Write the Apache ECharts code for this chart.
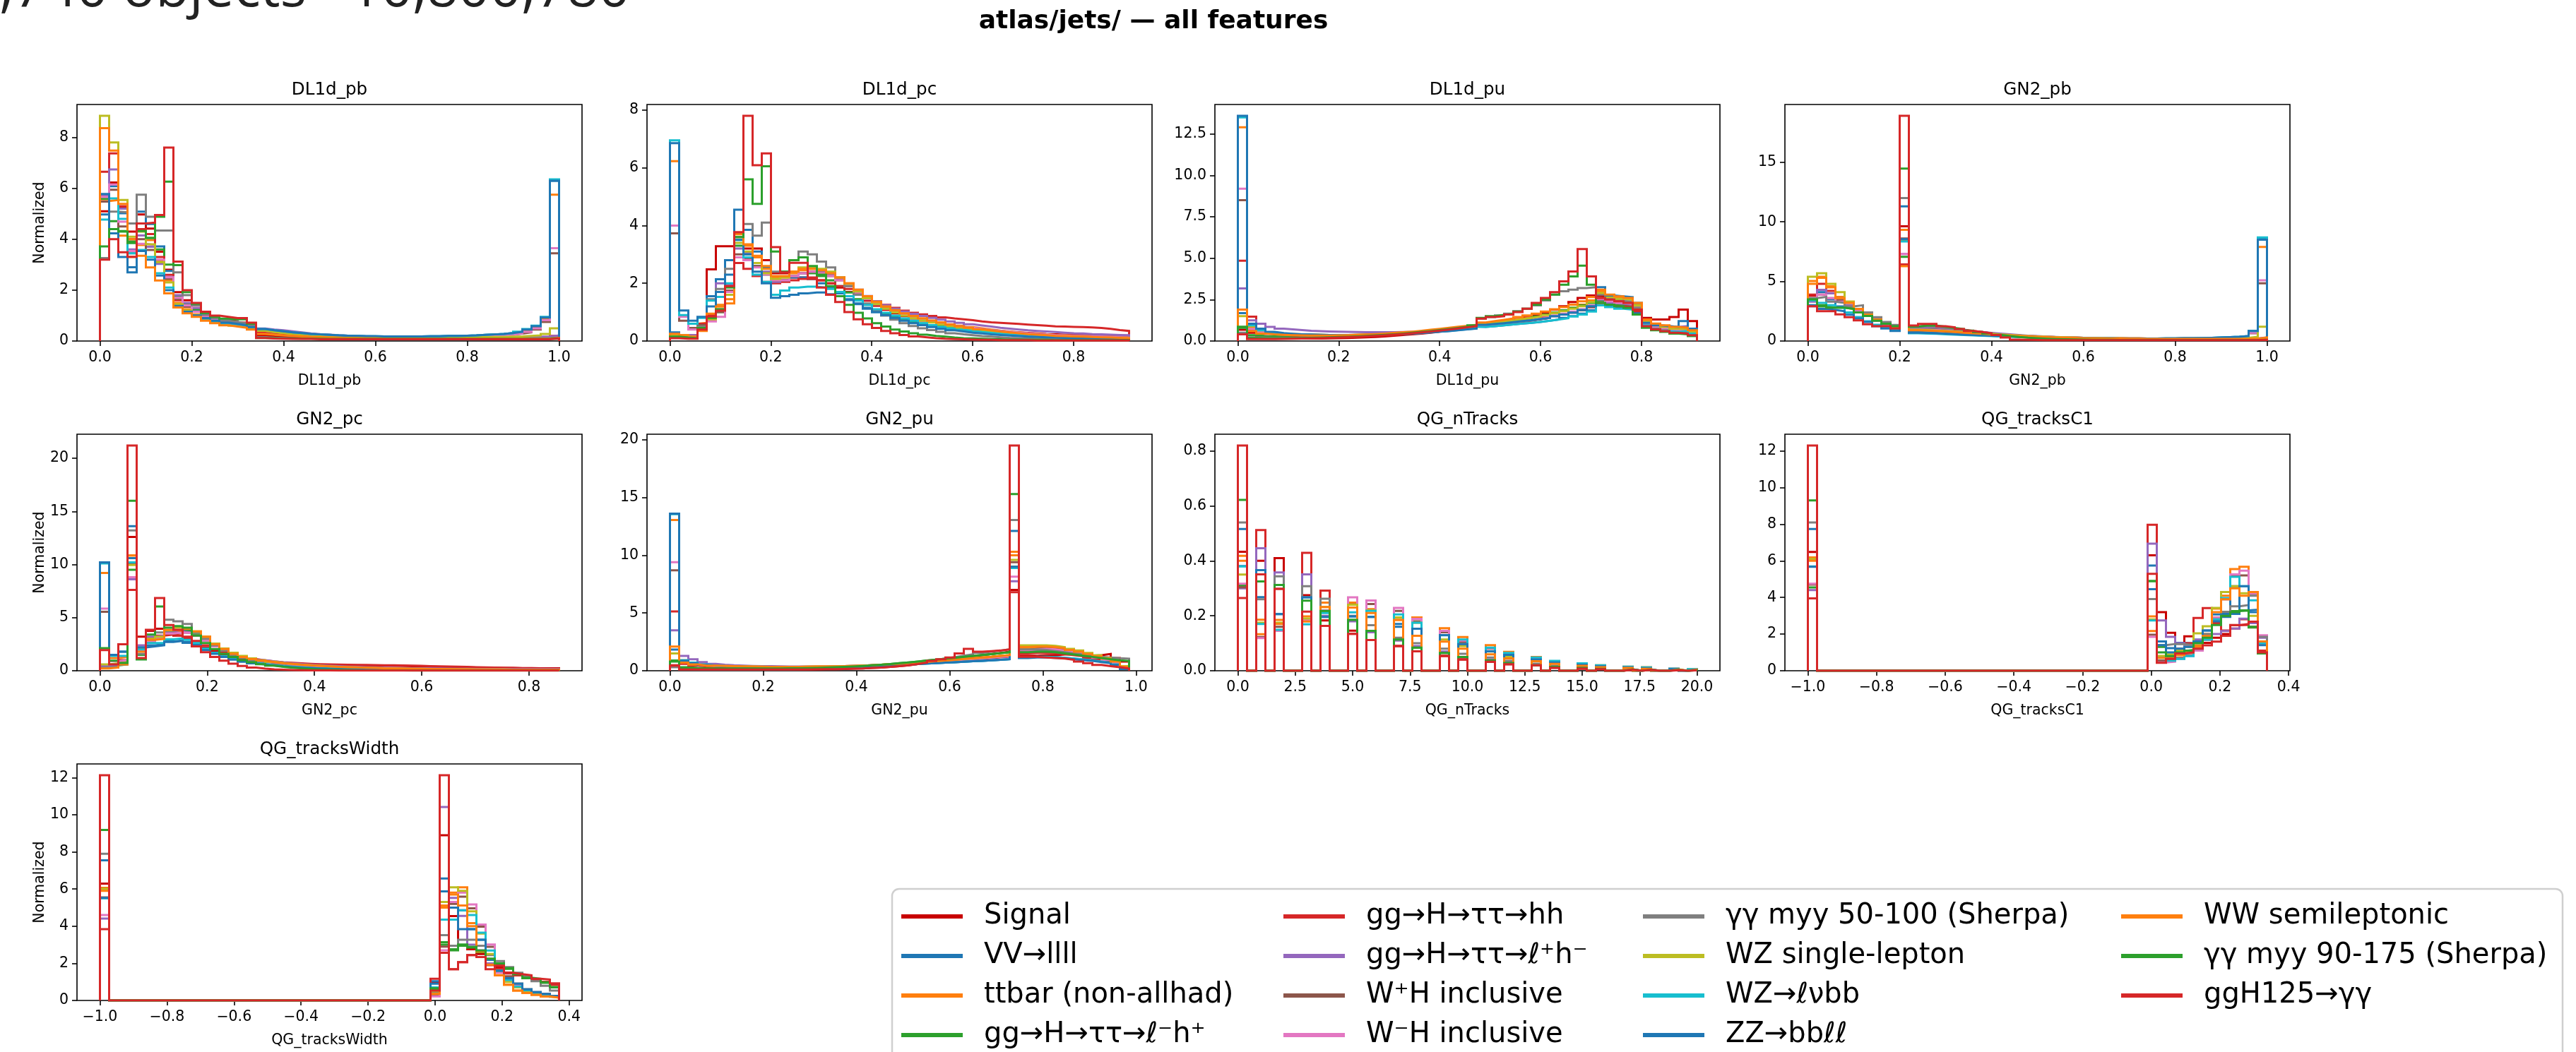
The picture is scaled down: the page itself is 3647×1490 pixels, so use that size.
<!DOCTYPE html>
<html lang="en">
<head>
<meta charset="utf-8"/>
<title>atlas/jets/ — all features</title>
<script src="https://cdn.jsdelivr.net/npm/echarts@6/dist/echarts.min.js"></script>
<style>
  html, body { margin: 0; padding: 0; background: #fff; }
</style>
</head>
<body>
<div id="chart" style="width: 3647px; height: 1490px;"></div>
<script>
// sample names, in legend / draw order
var SAMPLES = ['Signal', 'VV\u2192llll', 'ttbar (non-allhad)', 'gg\u2192H\u2192\u03c4\u03c4\u2192\u2113\u207bh\u207a',
  'gg\u2192H\u2192\u03c4\u03c4\u2192hh', 'gg\u2192H\u2192\u03c4\u03c4\u2192\u2113\u207ah\u207b', 'W\u207aH inclusive', 'W\u207bH inclusive',
  '\u03b3\u03b3 myy 50-100 (Sherpa)', 'WZ single-lepton', 'WZ\u2192\u2113\u03bdbb', 'ZZ\u2192bb\u2113\u2113',
  'WW semileptonic', '\u03b3\u03b3 myy 90-175 (Sherpa)', 'ggH125\u2192\u03b3\u03b3'];
var COLORS = ['#c80000', '#1f77b4', '#ff7f0e', '#2ca02c', '#d62728', '#9467bd', '#8c564b', '#e377c2',
  '#7f7f7f', '#bcbd22', '#17becf', '#1f77b4', '#ff7f0e', '#2ca02c', '#d62728'];

// normalized bin contents, 50 bins per feature, one row per sample (SAMPLES order)
var DL1D_PB = [
  [5.1,6.23,5.23,4.3,4.97,4.42,3.51,2.8,1.92,1.6, 1.3,1.05,0.9,0.82,0.78,0.72,0.6,0.22,0.18,0.16, 0.14,0.13,0.12,0.11,0.1,0.1,0.1,0.1,0.1,0.1, 0.1,0.1,0.1,0.1,0.1,0.1,0.1,0.1,0.1,0.1, 0.1,0.1,0.1,0.1,0.1,0.1,0.1,0.1,0.12,0.18],
  [4.97,6.08,5.02,2.7,5.08,4.6,3.72,2.75,1.7,1.4, 1.2,1.0,0.88,0.78,0.72,0.66,0.58,0.47,0.42,0.38, 0.34,0.31,0.28,0.26,0.24,0.22,0.21,0.2,0.19,0.19, 0.18,0.18,0.18,0.18,0.18,0.19,0.19,0.2,0.2,0.21, 0.22,0.24,0.26,0.28,0.31,0.36,0.45,0.58,0.92,6.3],
  [5.5,5.54,4.14,3.3,3.77,3.97,3.14,2.38,1.5,1.25, 1.05,0.9,0.78,0.7,0.64,0.58,0.5,0.42,0.38,0.34, 0.31,0.28,0.26,0.24,0.22,0.2,0.19,0.18,0.18,0.17, 0.17,0.17,0.17,0.17,0.17,0.17,0.18,0.18,0.19,0.2, 0.21,0.23,0.25,0.27,0.3,0.35,0.42,0.55,0.85,5.75],
  [5.59,4.71,4.32,3.91,4.32,4.05,3.6,3.0,1.75,1.45, 1.25,1.0,0.88,0.8,0.76,0.7,0.6,0.4,0.36,0.33, 0.3,0.28,0.26,0.24,0.22,0.2,0.19,0.18,0.17,0.16, 0.15,0.15,0.14,0.14,0.14,0.14,0.13,0.13,0.13,0.13, 0.13,0.13,0.13,0.13,0.13,0.13,0.13,0.13,0.13,0.15],
  [6.65,7.37,5.3,4.0,4.4,4.2,3.3,2.6,1.6,1.35, 1.15,0.95,0.82,0.74,0.7,0.65,0.55,0.35,0.31,0.28, 0.26,0.24,0.22,0.2,0.19,0.18,0.17,0.16,0.15,0.15, 0.14,0.14,0.14,0.14,0.14,0.14,0.14,0.14,0.14,0.14, 0.14,0.14,0.14,0.14,0.14,0.14,0.14,0.14,0.14,0.2],
  [5.7,6.74,5.2,3.6,4.15,3.7,3.03,2.52,1.8,1.5, 1.3,1.05,0.92,0.82,0.76,0.7,0.62,0.49,0.45,0.42, 0.38,0.34,0.3,0.27,0.25,0.23,0.21,0.2,0.19,0.18, 0.17,0.17,0.16,0.16,0.16,0.16,0.16,0.16,0.16,0.16, 0.16,0.16,0.16,0.16,0.16,0.16,0.16,0.17,0.18,0.22],
  [5.48,5.94,4.5,3.45,4.0,3.58,3.1,2.45,1.65,1.35, 1.15,0.95,0.82,0.72,0.66,0.6,0.5,0.4,0.36,0.32, 0.29,0.26,0.24,0.22,0.2,0.19,0.18,0.17,0.16,0.16, 0.15,0.15,0.15,0.15,0.15,0.15,0.15,0.15,0.16,0.16, 0.17,0.18,0.2,0.22,0.25,0.29,0.34,0.45,0.75,3.45],
  [5.66,6.15,4.69,3.54,3.82,3.77,3.2,2.5,1.7,1.4, 1.15,0.95,0.82,0.72,0.66,0.6,0.5,0.4,0.36,0.32, 0.29,0.26,0.24,0.22,0.2,0.19,0.18,0.17,0.16,0.16, 0.15,0.15,0.15,0.15,0.15,0.15,0.15,0.15,0.16,0.16, 0.17,0.18,0.2,0.22,0.25,0.3,0.36,0.5,0.82,3.65],
  [3.26,5.08,5.06,4.62,5.75,4.88,4.34,4.34,2.7,1.8, 1.4,1.05,0.9,0.8,0.75,0.7,0.6,0.15,0.13,0.12, 0.11,0.1,0.1,0.1,0.1,0.1,0.1,0.1,0.1,0.1, 0.1,0.1,0.1,0.1,0.1,0.1,0.1,0.1,0.1,0.1, 0.1,0.1,0.1,0.1,0.1,0.1,0.1,0.1,0.1,0.12],
  [8.85,7.8,5.54,4.1,4.3,3.8,3.1,2.3,1.45,1.2, 1.0,0.85,0.74,0.66,0.6,0.55,0.48,0.4,0.35,0.31, 0.28,0.26,0.24,0.22,0.2,0.19,0.18,0.17,0.16,0.16, 0.15,0.15,0.15,0.15,0.15,0.15,0.15,0.15,0.15,0.15, 0.15,0.15,0.16,0.16,0.17,0.18,0.2,0.22,0.28,0.5],
  [4.77,5.6,4.8,3.45,3.58,3.3,2.66,2.1,1.35,1.15, 1.0,0.88,0.78,0.7,0.65,0.6,0.54,0.47,0.42,0.38, 0.34,0.31,0.28,0.26,0.24,0.22,0.21,0.2,0.19,0.19, 0.18,0.18,0.18,0.18,0.18,0.19,0.19,0.2,0.2,0.21, 0.22,0.24,0.26,0.28,0.31,0.37,0.47,0.6,0.95,6.35],
  [5.78,4.23,3.3,2.9,3.54,3.2,2.57,2.0,1.38,1.15, 1.0,0.9,0.8,0.72,0.67,0.62,0.55,0.47,0.42,0.38, 0.34,0.31,0.28,0.26,0.24,0.22,0.21,0.2,0.19,0.19, 0.18,0.18,0.18,0.18,0.18,0.19,0.19,0.2,0.2,0.21, 0.22,0.24,0.26,0.28,0.31,0.36,0.45,0.58,0.92,6.3],
  [8.36,7.48,5.39,4.0,3.35,2.89,2.38,1.87,1.32,1.09, 0.95,0.8,0.7,0.62,0.57,0.52,0.45,0.28,0.25,0.22, 0.2,0.18,0.16,0.15,0.14,0.13,0.12,0.12,0.11,0.11, 0.1,0.1,0.1,0.1,0.1,0.1,0.1,0.1,0.1,0.1, 0.1,0.1,0.1,0.1,0.1,0.1,0.1,0.1,0.1,0.12],
  [3.72,4.4,4.3,3.85,4.32,4.05,4.88,6.26,2.98,1.92, 1.46,1.1,0.95,0.88,0.85,0.85,0.68,0.12,0.11,0.1, 0.1,0.09,0.09,0.09,0.08,0.08,0.08,0.08,0.08,0.08, 0.08,0.08,0.08,0.08,0.08,0.08,0.08,0.08,0.08,0.08, 0.08,0.08,0.08,0.08,0.08,0.08,0.08,0.08,0.08,0.1],
  [3.2,4.0,3.49,3.31,4.62,4.65,4.95,7.6,3.12,2.0, 1.5,1.15,1.0,0.95,0.9,0.9,0.72,0.12,0.1,0.09, 0.08,0.08,0.08,0.07,0.07,0.07,0.07,0.07,0.07,0.07, 0.07,0.07,0.07,0.07,0.07,0.07,0.07,0.07,0.07,0.07, 0.07,0.07,0.07,0.07,0.07,0.07,0.07,0.07,0.07,0.1]
];

var DL1D_PC = [
  [0.2,0.15,0.18,0.6,2.48,3.28,3.28,3.75,3.2,3.2, 2.8,2.35,2.35,2.2,2.2,2.15,2.1,2.0,1.85,1.7, 1.6,1.4,1.22,1.08,0.96,0.86,0.78,0.71,0.65,0.59, 0.54,0.49,0.45,0.41,0.38,0.35,0.32,0.3,0.28,0.26, 0.24,0.23,0.22,0.21,0.2,0.19,0.18,0.17,0.16,0.16],
  [0.3,0.15,0.15,0.5,1.55,2.14,2.8,4.55,3.85,3.1, 2.55,2.1,2.1,2.2,2.2,2.15,2.0,1.85,1.65,1.45, 1.3,1.15,1.0,0.9,0.8,0.72,0.64,0.56,0.5,0.45, 0.4,0.36,0.32,0.29,0.26,0.23,0.21,0.19,0.17,0.16, 0.15,0.14,0.13,0.12,0.11,0.1,0.1,0.09,0.09,0.08],
  [6.23,0.88,0.6,0.63,0.9,1.25,1.3,3.6,3.3,2.9, 2.5,2.2,2.2,2.35,2.45,2.5,2.45,2.35,2.2,2.0, 1.75,1.5,1.3,1.15,1.02,0.92,0.84,0.77,0.7,0.64, 0.58,0.53,0.48,0.44,0.4,0.36,0.33,0.3,0.27,0.25, 0.23,0.21,0.2,0.19,0.18,0.17,0.16,0.15,0.15,0.14],
  [0.2,0.15,0.15,0.5,0.78,1.0,1.9,3.3,3.0,2.6, 2.3,2.05,2.1,2.25,2.35,2.35,2.25,2.1,1.9,1.68, 1.45,1.25,1.08,0.95,0.85,0.76,0.68,0.61,0.55,0.5, 0.45,0.41,0.37,0.34,0.31,0.28,0.26,0.24,0.22,0.2, 0.18,0.17,0.16,0.15,0.14,0.13,0.12,0.11,0.1,0.1],
  [0.2,0.2,0.2,0.6,0.9,1.1,1.9,2.7,2.5,2.25, 2.05,2.0,2.05,2.1,2.15,2.15,2.1,2.0,1.9,1.8, 1.65,1.5,1.38,1.25,1.15,1.05,0.98,0.92,0.87,0.82, 0.78,0.75,0.72,0.68,0.65,0.63,0.61,0.59,0.57,0.55, 0.53,0.51,0.5,0.49,0.48,0.47,0.45,0.42,0.38,0.35],
  [0.25,0.2,0.2,0.45,0.8,2.0,1.95,3.2,3.05,2.7, 2.4,2.05,2.1,2.25,2.35,2.4,2.38,2.3,2.15,1.98, 1.78,1.56,1.38,1.24,1.12,1.02,0.94,0.87,0.8,0.74, 0.68,0.63,0.58,0.54,0.5,0.46,0.43,0.4,0.37,0.35, 0.33,0.31,0.29,0.27,0.26,0.24,0.23,0.22,0.21,0.2],
  [3.73,0.7,0.45,0.55,0.75,1.0,1.75,3.0,2.85,2.6, 2.35,2.1,2.1,2.25,2.35,2.4,2.35,2.25,2.1,1.9, 1.68,1.45,1.27,1.12,1.0,0.9,0.82,0.75,0.68,0.62, 0.56,0.51,0.46,0.42,0.38,0.35,0.32,0.29,0.26,0.24, 0.22,0.2,0.19,0.18,0.17,0.16,0.15,0.14,0.13,0.12],
  [4.0,0.84,0.4,0.5,0.68,0.84,1.7,2.9,2.8,2.55, 2.3,2.1,2.1,2.25,2.35,2.4,2.35,2.25,2.1,1.9, 1.68,1.45,1.27,1.12,1.0,0.9,0.82,0.75,0.68,0.62, 0.56,0.51,0.46,0.42,0.38,0.35,0.32,0.29,0.26,0.24, 0.22,0.2,0.19,0.18,0.17,0.16,0.15,0.14,0.13,0.12],
  [0.2,0.15,0.12,0.5,1.45,1.8,2.5,3.6,4.05,3.65, 4.1,2.4,2.4,2.8,3.1,3.0,2.75,2.55,2.2,1.9, 1.6,1.3,1.05,0.88,0.74,0.62,0.52,0.44,0.38,0.32, 0.27,0.23,0.2,0.17,0.15,0.13,0.11,0.1,0.09,0.08, 0.07,0.06,0.06,0.05,0.05,0.05,0.04,0.04,0.04,0.04],
  [0.2,0.2,0.15,0.4,0.75,1.2,1.6,3.4,3.1,2.7, 2.35,2.15,2.2,2.4,2.55,2.55,2.5,2.4,2.2,1.98, 1.72,1.48,1.28,1.12,0.99,0.88,0.79,0.71,0.64,0.57, 0.51,0.46,0.41,0.37,0.33,0.3,0.27,0.24,0.22,0.2, 0.18,0.16,0.15,0.14,0.13,0.12,0.11,0.1,0.1,0.09],
  [6.95,0.9,0.6,0.8,1.4,1.53,2.0,3.5,2.9,2.3, 2.05,1.6,1.75,1.85,1.88,1.88,1.85,1.8,1.7,1.55, 1.4,1.25,1.1,0.98,0.88,0.78,0.7,0.62,0.55,0.49, 0.44,0.39,0.35,0.31,0.28,0.25,0.22,0.2,0.18,0.16, 0.15,0.14,0.13,0.12,0.11,0.1,0.1,0.09,0.09,0.08],
  [6.85,1.06,0.7,0.84,1.2,1.7,2.3,3.5,3.0,2.4, 2.0,1.5,1.55,1.6,1.65,1.68,1.68,1.62,1.55,1.42, 1.28,1.12,1.0,0.9,0.8,0.7,0.62,0.55,0.48,0.42, 0.37,0.33,0.29,0.26,0.23,0.21,0.19,0.17,0.15,0.14, 0.13,0.12,0.11,0.1,0.09,0.09,0.08,0.08,0.07,0.07],
  [0.25,0.2,0.15,0.35,0.95,1.2,1.45,3.7,3.35,2.95, 2.6,2.25,2.25,2.4,2.5,2.5,2.45,2.35,2.2,2.0, 1.78,1.55,1.36,1.2,1.07,0.96,0.87,0.79,0.71,0.64, 0.57,0.51,0.46,0.41,0.37,0.33,0.3,0.27,0.24,0.22, 0.2,0.18,0.17,0.16,0.15,0.14,0.13,0.12,0.11,0.1],
  [0.15,0.12,0.1,0.45,0.8,1.1,1.85,3.6,5.6,4.75, 6.05,3.1,2.4,2.8,2.9,2.6,2.3,1.9,1.55,1.25, 0.98,0.78,0.62,0.5,0.4,0.33,0.27,0.22,0.18,0.15, 0.12,0.1,0.09,0.08,0.07,0.06,0.05,0.05,0.04,0.04, 0.04,0.03,0.03,0.03,0.03,0.03,0.03,0.03,0.03,0.03],
  [0.1,0.08,0.08,0.4,0.85,1.05,1.9,3.77,7.8,6.09, 6.5,3.25,2.38,2.71,2.71,2.2,1.85,1.6,1.35,1.0, 0.75,0.58,0.45,0.35,0.27,0.21,0.16,0.13,0.1,0.08, 0.07,0.06,0.05,0.04,0.04,0.03,0.03,0.03,0.03,0.02, 0.02,0.02,0.02,0.02,0.02,0.02,0.02,0.02,0.02,0.02]
];

var DL1D_PU = [
  [0.68,0.5,0.3,0.22,0.18,0.16,0.15,0.15,0.15,0.16, 0.17,0.18,0.2,0.22,0.25,0.28,0.32,0.36,0.4,0.45, 0.5,0.56,0.62,0.7,0.78,0.86, 1.0,1.08,1.15,1.22, 1.32,1.42,1.55,1.7,1.9,2.1,2.35,2.6,2.75,2.7, 2.5,2.4,2.35,2.0,1.4,1.3,1.3,1.45,1.9,1.2],
  [1.68,1.0,0.7,0.52,0.46,0.42,0.4,0.38,0.37,0.36, 0.36,0.36,0.37,0.38,0.4,0.42,0.45,0.48,0.52,0.56, 0.6,0.65,0.7,0.76,0.82,0.88, 0.85,0.9,0.95,1.0, 1.05,1.1,1.15,1.22,1.3,1.4,1.5,1.65,1.85,2.3, 2.15,2.05,2.0,1.7,1.0,0.75,0.65,0.6,0.7,0.5],
  [12.9,0.8,0.6,0.5,0.45,0.42,0.4,0.38,0.37,0.36, 0.36,0.36,0.37,0.38,0.4,0.42,0.45,0.48,0.52,0.56, 0.6,0.65,0.7,0.76,0.82,0.88, 1.05,1.12,1.2,1.28, 1.35,1.42,1.5,1.6,1.72,1.85,2.0,2.2,2.45,3.0, 2.7,2.6,2.55,2.2,1.2,1.0,0.9,0.8,0.75,0.6],
  [0.8,0.35,0.3,0.28,0.27,0.26,0.26,0.26,0.27,0.28, 0.3,0.32,0.34,0.36,0.38,0.4,0.43,0.46,0.5,0.54, 0.58,0.63,0.68,0.74,0.8,0.86, 1.0,1.08,1.15,1.22, 1.3,1.38,1.48,1.6,1.72,1.85,2.0,2.15,2.3,2.45, 2.3,2.2,2.15,1.85,1.0,0.75,0.65,0.55,0.5,0.4],
  [4.85,1.47,0.7,0.45,0.38,0.34,0.32,0.3,0.29,0.28, 0.28,0.28,0.29,0.3,0.32,0.34,0.37,0.4,0.44,0.48, 0.53,0.58,0.64,0.7,0.76,0.82, 0.95,1.0,1.05,1.1, 1.18,1.25,1.33,1.42,1.52,1.62,1.75,1.9,2.05,2.3, 2.2,2.1,2.05,1.8,1.0,0.8,0.7,0.6,0.55,0.45],
  [3.18,1.25,1.04,0.85,0.75,0.7,0.66,0.62,0.6,0.58, 0.56,0.55,0.54,0.53,0.53,0.53,0.53,0.54,0.55,0.57, 0.6,0.63,0.67,0.72,0.77,0.82, 0.92,0.98,1.04,1.1, 1.17,1.24,1.32,1.4,1.5,1.6,1.72,1.85,2.05,2.5, 2.3,2.25,2.2,1.9,1.1,0.95,0.9,0.85,0.9,0.6],
  [8.5,0.7,0.5,0.42,0.38,0.36,0.34,0.33,0.32,0.32, 0.32,0.33,0.34,0.35,0.37,0.39,0.42,0.45,0.48,0.52, 0.56,0.6,0.65,0.7,0.76,0.82, 0.95,1.0,1.06,1.12, 1.18,1.25,1.32,1.4,1.5,1.6,1.72,1.85,2.05,2.6, 2.45,2.35,2.3,1.95,1.1,0.9,0.8,0.7,0.7,0.55],
  [9.2,0.72,0.52,0.43,0.39,0.37,0.35,0.34,0.33,0.33, 0.33,0.34,0.35,0.36,0.38,0.4,0.43,0.46,0.49,0.53, 0.57,0.61,0.66,0.71,0.77,0.83, 0.96,1.02,1.08,1.14, 1.2,1.27,1.35,1.43,1.53,1.65,1.78,1.92,2.15,2.55, 2.4,2.3,2.25,1.9,1.05,0.85,0.75,0.65,0.65,0.5],
  [0.5,0.22,0.2,0.19,0.19,0.19,0.2,0.21,0.22,0.23, 0.25,0.27,0.29,0.31,0.34,0.37,0.4,0.44,0.48,0.53, 0.58,0.64,0.7,0.77,0.85,0.93, 1.35,1.45,1.55,1.65, 1.8,1.95,2.15,2.45,2.8,3.0,3.1,3.2,3.25,2.8, 2.6,2.5,2.4,2.0,0.9,0.75,0.65,0.55,0.45,0.35],
  [1.5,0.9,0.65,0.5,0.45,0.42,0.4,0.38,0.37,0.36, 0.36,0.36,0.37,0.38,0.4,0.42,0.45,0.48,0.52,0.56, 0.6,0.65,0.7,0.76,0.82,0.88, 1.05,1.1,1.17,1.24, 1.32,1.4,1.48,1.57,1.68,1.8,1.95,2.1,2.35,2.9, 2.65,2.55,2.5,2.15,1.15,0.95,0.85,0.75,0.7,0.55],
  [13.5,0.95,0.65,0.5,0.44,0.4,0.38,0.36,0.35,0.34, 0.34,0.34,0.35,0.36,0.37,0.39,0.41,0.43,0.46,0.49, 0.53,0.57,0.61,0.66,0.71,0.76, 0.85,0.9,0.95,1.0, 1.05,1.1,1.16,1.23,1.3,1.38,1.48,1.6,1.78,2.15, 2.05,1.95,1.9,1.6,0.95,0.7,0.6,0.55,0.6,0.45],
  [13.6,1.04,0.75,0.55,0.48,0.44,0.41,0.39,0.37,0.36, 0.35,0.35,0.35,0.36,0.37,0.38,0.4,0.42,0.45,0.48, 0.52,0.56,0.6,0.65,0.7,0.75, 0.98,1.03,1.08,1.14, 1.2,1.26,1.33,1.4,1.5,1.6,1.72,1.88,2.1,3.25, 2.75,2.7,2.65,2.3,1.1,0.95,0.9,0.85,1.2,0.75],
  [1.9,0.6,0.45,0.4,0.37,0.35,0.34,0.33,0.33,0.33, 0.34,0.35,0.37,0.39,0.42,0.45,0.49,0.53,0.57,0.62, 0.68,0.74,0.8,0.86,0.92,0.98, 1.12,1.2,1.28,1.36, 1.45,1.55,1.65,1.78,1.92,2.05,2.2,2.4,2.65,3.1, 2.8,2.7,2.6,2.3,1.3,1.05,0.95,0.85,0.8,0.65],
  [0.86,0.18,0.16,0.16,0.16,0.17,0.18,0.19,0.2,0.22, 0.24,0.26,0.28,0.31,0.34,0.37,0.41,0.45,0.5,0.55, 0.6,0.66,0.72,0.79,0.86,0.95, 1.4,1.5,1.58,1.65, 1.78,1.95,2.2,2.5,2.8,3.4,3.9,4.55,3.4,2.3, 2.2,2.1,2.0,1.6,0.8,0.65,0.55,0.45,0.4,0.3],
  [0.4,0.12,0.12,0.12,0.13,0.14,0.15,0.16,0.17,0.19, 0.21,0.23,0.25,0.28,0.31,0.34,0.38,0.42,0.47,0.52, 0.57,0.63,0.69,0.76,0.83,0.9, 1.35,1.45,1.5,1.6, 1.75,1.95,2.3,2.6,2.95,3.6,4.2,5.55,3.9,2.6, 2.5,2.4,2.3,1.9,0.9,0.7,0.6,0.5,0.45,0.35]
];

var GN2_PB = [
  [3.8,4.3,4.0,3.4,2.9,2.5,2.1,1.7,1.4,1.15, 9.63,1.2,1.3,1.3,1.15,1.05,0.95,0.85,0.75,0.65, 0.55,0.48,0.42,0.37,0.33,0.3,0.27,0.25,0.23,0.21, 0.2,0.19,0.18,0.17,0.16,0.15,0.15,0.14,0.14,0.13, 0.13,0.13,0.12,0.12,0.12,0.12,0.12,0.12,0.12,0.15],
  [3.0,4.1,3.5,2.9,2.4,2.0,1.65,1.35,1.1,0.9, 11.3,0.75,0.72,0.68,0.64,0.6,0.56,0.52,0.48,0.44, 0.41,0.38,0.35,0.33,0.31,0.29,0.27,0.26,0.25,0.24, 0.23,0.22,0.22,0.21,0.21,0.21,0.21,0.21,0.22,0.22, 0.23,0.24,0.25,0.27,0.29,0.32,0.36,0.42,0.85,8.6],
  [5.03,5.39,4.6,3.7,3.3,2.7,2.2,1.8,1.45,1.2, 9.33,0.95,0.92,0.88,0.84,0.8,0.75,0.7,0.65,0.6, 0.55,0.5,0.46,0.42,0.39,0.36,0.33,0.31,0.29,0.27, 0.26,0.25,0.24,0.23,0.22,0.22,0.21,0.21,0.21,0.21, 0.22,0.22,0.23,0.24,0.26,0.28,0.32,0.38,0.75,7.9],
  [3.5,2.9,2.8,2.8,2.7,2.4,2.1,1.7,1.45,1.25, 7.07,1.05,1.1,1.08,1.0,0.92,0.84,0.76,0.68,0.6, 0.53,0.47,0.42,0.38,0.34,0.31,0.28,0.26,0.24,0.22, 0.21,0.2,0.19,0.18,0.17,0.16,0.16,0.15,0.15,0.15, 0.15,0.15,0.15,0.15,0.15,0.15,0.15,0.15,0.15,0.18],
  [3.9,4.8,4.2,3.5,3.0,2.5,2.1,1.7,1.4,1.15, 6.43,1.1,1.15,1.12,1.05,0.97,0.89,0.81,0.73,0.65, 0.58,0.52,0.46,0.41,0.37,0.33,0.3,0.27,0.25,0.23, 0.21,0.2,0.19,0.18,0.17,0.16,0.16,0.15,0.15,0.15, 0.15,0.15,0.15,0.15,0.15,0.15,0.15,0.15,0.16,0.2],
  [3.3,4.3,4.0,3.6,3.0,2.6,2.2,1.85,1.55,1.3, 7.3,1.1,1.15,1.12,1.05,0.98,0.9,0.82,0.75,0.68, 0.62,0.56,0.5,0.45,0.41,0.37,0.34,0.31,0.29,0.27, 0.25,0.24,0.23,0.22,0.21,0.2,0.2,0.19,0.19,0.19, 0.19,0.19,0.19,0.19,0.19,0.19,0.19,0.2,0.22,0.3],
  [3.5,3.9,3.6,3.4,2.9,2.5,2.1,1.7,1.4,1.15, 8.6,0.95,0.95,0.92,0.88,0.83,0.78,0.72,0.66,0.6, 0.55,0.5,0.46,0.42,0.39,0.36,0.33,0.31,0.29,0.27, 0.26,0.25,0.24,0.23,0.22,0.22,0.21,0.21,0.21,0.21, 0.22,0.22,0.23,0.24,0.25,0.27,0.3,0.35,0.65,4.85],
  [3.6,3.9,3.6,3.3,2.9,2.5,2.1,1.7,1.4,1.15, 7.3,0.95,0.95,0.92,0.88,0.83,0.78,0.72,0.66,0.6, 0.55,0.5,0.46,0.42,0.39,0.36,0.33,0.31,0.29,0.27, 0.26,0.25,0.24,0.23,0.22,0.22,0.21,0.21,0.21,0.21, 0.22,0.22,0.23,0.24,0.25,0.27,0.3,0.36,0.7,5.1],
  [3.6,3.7,3.3,3.2,2.9,3.0,2.4,2.0,1.6,1.35, 12.0,1.25,1.25,1.2,1.1,1.0,0.9,0.8,0.7,0.6, 0.5,0.42,0.35,0.3,0.26,0.23,0.2,0.18,0.16,0.15, 0.14,0.13,0.12,0.12,0.11,0.11,0.11,0.1,0.1,0.1, 0.1,0.1,0.1,0.1,0.1,0.1,0.1,0.1,0.1,0.12],
  [5.39,5.68,4.8,4.1,3.3,2.7,2.2,1.8,1.45,1.2, 8.5,0.95,0.92,0.88,0.84,0.8,0.75,0.7,0.65,0.6, 0.55,0.5,0.46,0.42,0.39,0.36,0.33,0.31,0.29,0.27, 0.26,0.25,0.24,0.23,0.22,0.22,0.21,0.21,0.21,0.21, 0.21,0.21,0.21,0.22,0.22,0.23,0.24,0.26,0.35,1.2],
  [3.4,3.2,3.0,2.8,2.4,2.0,1.65,1.35,1.1,0.9, 8.35,0.65,0.62,0.6,0.57,0.54,0.51,0.48,0.45,0.42, 0.39,0.36,0.34,0.32,0.3,0.28,0.27,0.26,0.25,0.24, 0.23,0.22,0.22,0.21,0.21,0.21,0.21,0.21,0.22,0.22, 0.23,0.24,0.25,0.27,0.29,0.32,0.36,0.42,0.85,8.7],
  [2.92,2.7,2.6,2.5,2.2,1.9,1.6,1.25,1.05,0.85, 8.55,0.7,0.68,0.65,0.62,0.58,0.54,0.5,0.47,0.44, 0.41,0.38,0.35,0.33,0.31,0.29,0.27,0.26,0.25,0.24, 0.23,0.22,0.22,0.21,0.21,0.21,0.21,0.21,0.22,0.22, 0.23,0.24,0.25,0.27,0.29,0.32,0.36,0.42,0.85,8.5],
  [4.8,5.3,4.5,3.6,3.2,2.7,2.2,1.8,1.45,1.2, 6.28,0.9,0.88,0.84,0.8,0.75,0.7,0.65,0.6,0.55, 0.5,0.46,0.42,0.38,0.35,0.32,0.3,0.28,0.26,0.24, 0.23,0.22,0.21,0.2,0.19,0.19,0.18,0.18,0.18,0.18, 0.18,0.18,0.18,0.18,0.18,0.18,0.18,0.18,0.2,0.3],
  [3.5,3.0,2.8,2.8,2.7,2.4,2.1,1.7,1.45,1.25, 14.47,1.2,1.3,1.3,1.2,1.1,1.0,0.88,0.76,0.64, 0.52,0.42,0.34,0.28,0.24,0.2,0.17,0.15,0.13,0.12, 0.11,0.1,0.1,0.09,0.09,0.09,0.09,0.09,0.09,0.09, 0.09,0.09,0.09,0.09,0.09,0.09,0.09,0.09,0.09,0.1],
  [2.92,2.5,2.5,2.23,2.0,1.74,1.4,1.25,1.25,1.05, 18.9,1.3,1.44,1.44,1.25,1.15,1.0,0.85,0.75,0.65, 0.5,0.3,0.12,0.1,0.09,0.08,0.08,0.07,0.07,0.07, 0.07,0.07,0.07,0.07,0.07,0.07,0.07,0.07,0.07,0.07, 0.07,0.07,0.07,0.07,0.07,0.07,0.07,0.07,0.07,0.1]
];

var GN2_PC = [
  [0.5,0.4,1.0,12.6,3.2,3.75,3.95,3.5,3.3,3.0, 2.6,2.2,1.85,1.55,1.3,1.1,0.95,0.85,0.78,0.72, 0.68,0.64,0.6,0.57,0.55,0.53,0.52,0.51,0.5,0.49, 0.48,0.47,0.45,0.43,0.41,0.39,0.37,0.35,0.33,0.31, 0.3,0.29,0.28,0.27,0.26,0.25,0.25,0.24,0.24,0.24],
  [0.5,1.5,1.8,10.6,2.2,2.4,2.5,2.75,2.85,2.7, 2.45,2.0,1.65,1.35,1.1,0.9,0.74,0.61,0.51,0.43, 0.36,0.31,0.27,0.23,0.2,0.18,0.16,0.14,0.13,0.12, 0.11,0.1,0.09,0.08,0.08,0.07,0.07,0.06,0.06,0.06, 0.05,0.05,0.05,0.05,0.05,0.05,0.05,0.05,0.05,0.05],
  [9.2,1.2,1.3,10.85,2.0,2.7,3.0,3.6,3.7,3.8, 3.6,3.1,2.5,2.05,1.65,1.35,1.12,0.95,0.82,0.72, 0.64,0.57,0.51,0.46,0.41,0.37,0.34,0.31,0.28,0.26, 0.24,0.22,0.2,0.19,0.18,0.17,0.16,0.15,0.14,0.13, 0.12,0.12,0.11,0.11,0.1,0.1,0.1,0.1,0.1,0.1],
  [0.4,0.5,0.6,9.5,1.5,3.0,3.2,3.7,3.8,3.75, 3.4,2.9,2.35,1.9,1.55,1.28,1.07,0.9,0.78,0.68, 0.6,0.53,0.47,0.42,0.38,0.34,0.31,0.28,0.26,0.24, 0.22,0.2,0.19,0.18,0.17,0.16,0.15,0.14,0.13,0.12, 0.12,0.11,0.11,0.1,0.1,0.1,0.1,0.1,0.1,0.1],
  [0.3,0.3,0.8,7.6,2.0,3.0,3.3,3.4,3.3,3.1, 2.8,2.4,2.0,1.7,1.45,1.25,1.1,0.98,0.88,0.8, 0.74,0.69,0.65,0.62,0.6,0.58,0.56,0.55,0.54,0.53, 0.52,0.51,0.5,0.48,0.46,0.44,0.42,0.4,0.38,0.36, 0.34,0.32,0.3,0.28,0.26,0.24,0.22,0.21,0.2,0.19],
  [0.45,0.55,0.65,8.6,2.4,3.2,3.3,3.6,3.7,3.6, 3.3,2.85,2.35,1.95,1.62,1.36,1.16,1.0,0.88,0.78, 0.7,0.63,0.57,0.52,0.47,0.43,0.39,0.36,0.33,0.31, 0.29,0.27,0.25,0.24,0.23,0.22,0.21,0.2,0.19,0.18, 0.17,0.17,0.16,0.16,0.15,0.15,0.15,0.15,0.15,0.15],
  [5.55,0.9,1.0,10.0,1.9,2.8,3.1,3.5,3.6,3.55, 3.3,2.85,2.3,1.9,1.55,1.28,1.07,0.9,0.78,0.68, 0.6,0.53,0.47,0.42,0.38,0.34,0.31,0.28,0.26,0.24, 0.22,0.2,0.19,0.18,0.17,0.16,0.15,0.14,0.13,0.12, 0.12,0.11,0.11,0.1,0.1,0.1,0.1,0.1,0.1,0.1],
  [5.85,0.9,1.0,8.8,1.9,2.8,3.1,3.5,3.6,3.55, 3.3,2.85,2.3,1.9,1.55,1.28,1.07,0.9,0.78,0.68, 0.6,0.53,0.47,0.42,0.38,0.34,0.31,0.28,0.26,0.24, 0.22,0.2,0.19,0.18,0.17,0.16,0.15,0.14,0.13,0.12, 0.12,0.11,0.11,0.1,0.1,0.1,0.1,0.1,0.1,0.1],
  [0.3,0.4,0.6,13.2,1.6,2.9,3.6,4.8,4.65,4.4, 3.6,3.0,2.4,1.9,1.5,1.2,0.95,0.75,0.6,0.48, 0.38,0.3,0.24,0.2,0.16,0.13,0.11,0.09,0.08,0.07, 0.06,0.05,0.05,0.04,0.04,0.04,0.03,0.03,0.03,0.03, 0.03,0.03,0.03,0.03,0.03,0.03,0.03,0.03,0.03,0.03],
  [0.6,0.7,0.8,9.95,2.1,3.0,3.2,3.8,4.05,3.95, 3.7,3.2,2.55,2.1,1.7,1.4,1.16,0.98,0.84,0.73, 0.64,0.57,0.51,0.46,0.41,0.37,0.34,0.31,0.28,0.26, 0.24,0.22,0.2,0.19,0.18,0.17,0.16,0.15,0.14,0.13, 0.12,0.12,0.11,0.11,0.1,0.1,0.1,0.1,0.1,0.1],
  [10.1,1.4,1.4,10.2,2.0,2.6,2.6,2.95,3.05,2.9, 2.6,2.1,1.7,1.38,1.12,0.92,0.76,0.63,0.52,0.44, 0.37,0.32,0.27,0.24,0.21,0.18,0.16,0.14,0.13,0.12, 0.11,0.1,0.09,0.08,0.08,0.07,0.07,0.06,0.06,0.06, 0.05,0.05,0.05,0.05,0.05,0.05,0.05,0.05,0.05,0.05],
  [10.2,1.5,1.8,13.6,2.2,2.3,2.4,2.7,2.8,2.62, 2.4,1.95,1.6,1.3,1.05,0.85,0.7,0.58,0.48,0.4, 0.34,0.29,0.25,0.22,0.19,0.17,0.15,0.13,0.12,0.11, 0.1,0.09,0.08,0.08,0.07,0.07,0.06,0.06,0.06,0.05, 0.05,0.05,0.05,0.05,0.05,0.05,0.05,0.05,0.05,0.05],
  [0.22,0.3,0.6,10.85,1.8,2.9,3.0,3.85,3.75,3.95, 3.7,3.2,2.5,2.05,1.6,1.3,1.1,0.95,0.82,0.72, 0.64,0.57,0.51,0.46,0.41,0.37,0.34,0.31,0.28,0.26, 0.24,0.22,0.2,0.19,0.18,0.17,0.16,0.15,0.14,0.13, 0.12,0.12,0.11,0.11,0.1,0.1,0.1,0.1,0.1,0.1],
  [2.13,0.95,0.73,16.0,1.07,3.4,6.05,4.05,4.2,4.05, 3.3,2.6,2.05,1.6,1.3,1.0,0.8,0.62,0.48,0.37, 0.28,0.21,0.16,0.12,0.1,0.08,0.06,0.05,0.04,0.04, 0.03,0.03,0.03,0.02,0.02,0.02,0.02,0.02,0.02,0.02, 0.02,0.02,0.02,0.02,0.02,0.02,0.02,0.02,0.02,0.02],
  [1.95,0.6,2.5,21.2,1.2,3.85,6.85,4.3,3.85,3.2, 2.3,1.75,1.3,0.95,0.67,0.45,0.3,0.2,0.14,0.1, 0.07,0.05,0.04,0.03,0.03,0.02,0.02,0.02,0.02,0.02, 0.02,0.02,0.02,0.02,0.02,0.02,0.02,0.02,0.02,0.02, 0.02,0.02,0.02,0.02,0.02,0.02,0.02,0.02,0.02,0.02]
];

var GN2_PU = [
  [0.47,0.15,0.12,0.1, 0.1,0.1,0.1,0.1,0.1,0.1,0.1,0.1,0.1,0.1, 0.11,0.12,0.13,0.14,0.16,0.18,0.2,0.24,0.28,0.33, 0.4,0.48,0.58,0.68,0.8,0.92,1.05,1.15,1.25,1.35, 1.45,1.55,1.65, 7.0, 1.3,1.3,1.35,1.35,1.4,1.4,1.35,1.3,1.35,1.45,1.1,0.8],
  [1.84,0.9,0.7,0.55, 0.45,0.4,0.37,0.35,0.33,0.32,0.31,0.3,0.3,0.3, 0.3,0.3,0.31,0.32,0.33,0.35,0.37,0.4,0.43,0.46, 0.5,0.54,0.58,0.62,0.66,0.7,0.74,0.78,0.82,0.86, 0.9,0.95,1.0, 12.1, 1.15,1.2,1.2,1.18,1.12,1.05,0.98,0.9,0.8,0.7,0.55,0.2],
  [13.05,0.9,0.7,0.55, 0.45,0.42,0.4,0.38,0.36,0.35,0.34,0.34,0.34,0.34, 0.35,0.36,0.37,0.38,0.4,0.42,0.45,0.48,0.52,0.56, 0.6,0.65,0.7,0.76,0.82,0.88,0.95,1.02,1.08,1.14, 1.2,1.28,1.35, 10.0, 1.9,2.0,2.0,1.95,1.85,1.75,1.6,1.45,1.25,1.05,0.8,0.35],
  [0.88,0.3,0.25,0.22, 0.2,0.2,0.2,0.2,0.2,0.2,0.2,0.2,0.21,0.22, 0.23,0.25,0.27,0.3,0.33,0.37,0.42,0.47,0.52,0.58, 0.65,0.72,0.8,0.88,0.96,1.04,1.12,1.2,1.28,1.36, 1.44,1.52,1.6, 9.0, 1.7,1.75,1.75,1.7,1.6,1.5,1.38,1.25,1.1,0.95,0.7,0.3],
  [5.13,0.6,0.45,0.38, 0.33,0.3,0.28,0.27,0.26,0.25,0.25,0.25,0.25,0.25, 0.26,0.27,0.28,0.3,0.32,0.34,0.37,0.4,0.44,0.48, 0.52,0.57,0.62,0.68,0.74,0.8,0.86,0.92,0.98,1.04, 1.1,1.16,1.22, 6.8, 1.5,1.55,1.55,1.5,1.45,1.35,1.25,1.1,0.95,0.8,0.6,0.25],
  [3.5,1.29,1.0,0.75, 0.6,0.52,0.47,0.44,0.42,0.4,0.39,0.38,0.37,0.37, 0.37,0.37,0.37,0.38,0.39,0.41,0.43,0.46,0.49,0.53, 0.57,0.62,0.67,0.72,0.78,0.84,0.9,0.96,1.02,1.08, 1.14,1.2,1.26, 7.75, 1.7,1.8,1.85,1.8,1.7,1.6,1.45,1.3,1.15,1.0,0.75,0.3],
  [8.7,0.8,0.6,0.48, 0.42,0.38,0.36,0.34,0.33,0.32,0.32,0.32,0.32,0.32, 0.33,0.34,0.35,0.37,0.39,0.41,0.44,0.47,0.5,0.54, 0.58,0.63,0.68,0.73,0.78,0.84,0.9,0.96,1.02,1.08, 1.14,1.2,1.26, 9.4, 1.8,1.9,1.95,1.9,1.8,1.7,1.55,1.4,1.2,1.0,0.75,0.3],
  [9.4,0.8,0.6,0.48, 0.42,0.38,0.36,0.34,0.33,0.32,0.32,0.32,0.32,0.32, 0.33,0.34,0.35,0.37,0.39,0.41,0.44,0.47,0.5,0.54, 0.58,0.63,0.68,0.73,0.78,0.84,0.9,0.96,1.02,1.08, 1.14,1.2,1.26, 8.15, 1.75,1.85,1.9,1.85,1.75,1.65,1.5,1.35,1.15,0.95,0.7,0.15],
  [0.3,0.12,0.1,0.1, 0.1,0.1,0.1,0.1,0.1,0.1,0.1,0.1,0.11,0.12, 0.13,0.15,0.17,0.2,0.24,0.28,0.33,0.38,0.44,0.5, 0.57,0.65,0.74,0.84,0.95,1.06,1.18,1.3,1.42,1.55, 1.65,1.75,1.85, 13.05, 1.85,1.85,1.8,1.7,1.6,1.5,1.4,1.3,1.2,1.15,1.08,1.05],
  [1.5,0.7,0.55,0.45, 0.45,0.42,0.4,0.38,0.36,0.35,0.34,0.34,0.34,0.34, 0.35,0.36,0.37,0.38,0.4,0.42,0.45,0.48,0.52,0.56, 0.6,0.65,0.7,0.76,0.82,0.88,0.95,1.02,1.08,1.14, 1.2,1.28,1.35, 9.6, 2.2,2.2,2.2,2.15,2.05,1.9,1.75,1.55,1.35,1.1,0.85,0.4],
  [13.55,0.9,0.7,0.55, 0.45,0.4,0.37,0.35,0.33,0.32,0.31,0.3,0.3,0.3, 0.3,0.3,0.31,0.32,0.33,0.35,0.37,0.4,0.43,0.46, 0.5,0.54,0.58,0.62,0.66,0.7,0.74,0.78,0.82,0.86, 0.9,0.95,1.0, 8.9, 1.15,1.2,1.2,1.18,1.12,1.05,0.98,0.9,0.8,0.7,0.55,0.2],
  [13.6,0.85,0.65,0.5, 0.45,0.4,0.37,0.35,0.33,0.32,0.31,0.3,0.3,0.3, 0.3,0.3,0.31,0.32,0.33,0.35,0.37,0.4,0.43,0.46, 0.5,0.54,0.58,0.62,0.66,0.7,0.74,0.78,0.82,0.86, 0.9,0.95,1.0, 9.0, 1.1,1.15,1.15,1.12,1.08,1.0,0.92,0.85,0.75,0.65,0.5,0.15],
  [2.1,0.7,0.55,0.45, 0.45,0.42,0.4,0.38,0.36,0.35,0.34,0.34,0.34,0.34, 0.35,0.36,0.37,0.38,0.4,0.42,0.45,0.48,0.52,0.56, 0.6,0.65,0.7,0.76,0.82,0.88,0.95,1.02,1.08,1.14, 1.2,1.28,1.35, 10.3, 2.05,2.1,2.1,2.05,1.95,1.8,1.65,1.45,1.25,1.05,0.8,0.35],
  [0.8,0.25,0.2,0.18, 0.2,0.2,0.2,0.2,0.2,0.2,0.2,0.2,0.21,0.22, 0.23,0.25,0.27,0.3,0.33,0.37,0.42,0.47,0.52,0.58, 0.65,0.72,0.8,0.88,0.96,1.04,1.12,1.2,1.28,1.36, 1.44,1.52,1.6, 15.3, 1.6,1.65,1.65,1.6,1.5,1.4,1.3,1.2,1.1,1.0,0.9,0.85],
  [0.45,0.1,0.1,0.1, 0.1,0.1,0.1,0.1,0.1,0.1,0.1,0.1,0.1,0.1, 0.11,0.12,0.13,0.14,0.16,0.18,0.2,0.24,0.28,0.33, 0.4,0.48,0.58,0.7,0.85,1.0,1.15,1.5,1.9,1.65, 1.7,1.75,1.85, 19.5, 1.2,1.2,1.15,1.1,1.05,0.95,0.8,0.65,0.5,0.4,0.3,0.2]
];

// QG_nTracks: density for track counts 0..20, and the bin (of 50) each count falls in
var NTRACKS_BIN = [0,2,4,7,9,12,14,17,19,22,24,27,29,32,34,37,39,42,44,47,49];
var QG_NTRACKS = [
  [0.433,0.4,0.41,0.275,0.183,0.146,0.112,0.09,0.071,0.054,0.041,0.033,0.024,0.02,0.011,0.008,0.006,0.004,0.003,0.002,0.002],
  [0.381,0.268,0.206,0.267,0.196,0.198,0.196,0.17,0.153,0.13,0.097,0.071,0.058,0.041,0.03,0.022,0.016,0.012,0.009,0.006,0.004],
  [0.418,0.186,0.185,0.198,0.248,0.248,0.224,0.185,0.194,0.155,0.123,0.093,0.069,0.05,0.034,0.027,0.02,0.015,0.013,0.008,0.006],
  [0.31,0.325,0.312,0.351,0.218,0.185,0.145,0.114,0.084,0.065,0.05,0.04,0.03,0.022,0.015,0.01,0.007,0.005,0.004,0.003,0.002],
  [0.265,0.512,0.298,0.429,0.292,0.134,0.112,0.09,0.071,0.054,0.041,0.033,0.024,0.02,0.011,0.008,0.006,0.004,0.003,0.002,0.002],
  [0.3,0.446,0.358,0.351,0.2,0.18,0.14,0.11,0.09,0.07,0.05,0.04,0.03,0.022,0.015,0.01,0.007,0.005,0.004,0.003,0.002],
  [0.304,0.123,0.16,0.189,0.22,0.241,0.243,0.218,0.18,0.14,0.105,0.08,0.06,0.045,0.032,0.024,0.017,0.012,0.009,0.006,0.004],
  [0.317,0.119,0.145,0.185,0.22,0.267,0.256,0.229,0.189,0.145,0.11,0.082,0.062,0.046,0.033,0.025,0.018,0.013,0.01,0.007,0.005],
  [0.54,0.26,0.344,0.308,0.262,0.2,0.166,0.12,0.1,0.08,0.062,0.048,0.036,0.026,0.018,0.013,0.009,0.006,0.005,0.004,0.003],
  [0.35,0.175,0.175,0.19,0.232,0.24,0.22,0.194,0.175,0.114,0.09,0.07,0.052,0.04,0.028,0.02,0.015,0.011,0.008,0.006,0.004],
  [0.38,0.17,0.149,0.169,0.21,0.213,0.218,0.205,0.175,0.129,0.114,0.084,0.065,0.048,0.036,0.027,0.02,0.015,0.012,0.008,0.006],
  [0.516,0.366,0.206,0.267,0.196,0.198,0.196,0.16,0.153,0.13,0.097,0.071,0.058,0.041,0.03,0.022,0.016,0.012,0.009,0.006,0.004],
  [0.4,0.133,0.17,0.179,0.232,0.23,0.21,0.185,0.127,0.106,0.08,0.06,0.045,0.035,0.025,0.018,0.013,0.01,0.007,0.005,0.004],
  [0.622,0.325,0.312,0.255,0.218,0.185,0.145,0.114,0.084,0.065,0.05,0.038,0.028,0.02,0.014,0.01,0.007,0.005,0.004,0.003,0.002],
  [0.82,0.351,0.298,0.215,0.163,0.134,0.112,0.09,0.071,0.054,0.041,0.033,0.024,0.02,0.011,0.008,0.006,0.004,0.003,0.002,0.001]
];

var QG_TRACKSC1 = [
  [6.49, 0,0,0,0,0,0,0,0,0,0, 0,0,0,0,0,0,0,0,0,0, 0,0,0,0,0,0,0,0,0,0, 0,0,0,0,0,0, 6.3, 3.2,2.07,1.14,1.88,1.52,1.52,1.8,2.0,2.5,2.81,2.68,1.0],
  [7.74, 0,0,0,0,0,0,0,0,0,0, 0,0,0,0,0,0,0,0,0,0, 0,0,0,0,0,0,0,0,0,0, 0,0,0,0,0,0, 5.74, 1.6,1.23,1.52,1.5,1.7,2.2,3.07,2.94,4.62,3.3,3.33,1.5],
  [6.19, 0,0,0,0,0,0,0,0,0,0, 0,0,0,0,0,0,0,0,0,0, 0,0,0,0,0,0,0,0,0,0, 0,0,0,0,0,0, 2.97, 0.8,0.75,0.9,1.1,1.39,2.0,3.39,4.1,5.55,5.68,4.3,1.6],
  [4.55, 0,0,0,0,0,0,0,0,0,0, 0,0,0,0,0,0,0,0,0,0, 0,0,0,0,0,0,0,0,0,0, 0,0,0,0,0,0, 4.9, 1.3,0.8,1.07,1.14,1.59,1.9,2.62,3.03,3.26,3.29,2.36,0.94],
  [3.95, 0,0,0,0,0,0,0,0,0,0, 0,0,0,0,0,0,0,0,0,0, 0,0,0,0,0,0,0,0,0,0, 0,0,0,0,0,0, 7.97, 0.55,0.8,1.2,1.5,2.88,3.42,2.6,2.2,2.3,2.5,2.4,1.1],
  [4.4, 0,0,0,0,0,0,0,0,0,0, 0,0,0,0,0,0,0,0,0,0, 0,0,0,0,0,0,0,0,0,0, 0,0,0,0,0,0, 6.94, 2.75,1.85,1.5,1.4,1.7,1.9,2.0,2.17,2.3,2.84,2.6,1.8],
  [4.7, 0,0,0,0,0,0,0,0,0,0, 0,0,0,0,0,0,0,0,0,0, 0,0,0,0,0,0,0,0,0,0, 0,0,0,0,0,0, 1.97, 0.55,0.6,0.7,0.85,1.1,1.7,2.9,3.9,5.2,5.2,4.2,1.9],
  [4.75, 0,0,0,0,0,0,0,0,0,0, 0,0,0,0,0,0,0,0,0,0, 0,0,0,0,0,0,0,0,0,0, 0,0,0,0,0,0, 1.85, 0.45,0.5,0.65,0.8,1.1,1.7,2.9,3.9,5.26,5.46,4.23,1.94],
  [8.1, 0,0,0,0,0,0,0,0,0,0, 0,0,0,0,0,0,0,0,0,0, 0,0,0,0,0,0,0,0,0,0, 0,0,0,0,0,0, 3.91, 1.4,1.46,1.46,1.4,1.6,2.0,2.8,3.22,3.52,3.59,4.1,1.85],
  [6.1, 0,0,0,0,0,0,0,0,0,0, 0,0,0,0,0,0,0,0,0,0, 0,0,0,0,0,0,0,0,0,0, 0,0,0,0,0,0, 2.8, 0.8,0.9,1.1,1.3,2.04,2.43,3.43,4.3,4.62,4.23,3.0,1.5],
  [5.7, 0,0,0,0,0,0,0,0,0,0, 0,0,0,0,0,0,0,0,0,0, 0,0,0,0,0,0,0,0,0,0, 0,0,0,0,0,0, 2.75, 0.7,0.55,0.65,0.8,1.2,1.7,2.8,3.97,5.13,4.62,3.85,1.52],
  [5.68, 0,0,0,0,0,0,0,0,0,0, 0,0,0,0,0,0,0,0,0,0, 0,0,0,0,0,0,0,0,0,0, 0,0,0,0,0,0, 4.45, 1.4,1.0,1.2,1.3,1.6,2.2,2.7,3.1,3.1,4.62,3.2,1.4],
  [6.0, 0,0,0,0,0,0,0,0,0,0, 0,0,0,0,0,0,0,0,0,0, 0,0,0,0,0,0,0,0,0,0, 0,0,0,0,0,0, 2.17, 0.7,0.7,0.85,1.0,1.3,1.9,3.2,3.9,4.5,4.1,4.3,1.6],
  [9.3, 0,0,0,0,0,0,0,0,0,0, 0,0,0,0,0,0,0,0,0,0, 0,0,0,0,0,0,0,0,0,0, 0,0,0,0,0,0, 4.9, 1.0,0.8,1.0,1.1,1.5,1.8,2.5,3.0,3.2,3.3,2.4,0.95],
  [12.3, 0,0,0,0,0,0,0,0,0,0, 0,0,0,0,0,0,0,0,0,0, 0,0,0,0,0,0,0,0,0,0, 0,0,0,0,0,0, 5.29, 0.43,0.65,0.94,1.0,1.2,1.39,1.59,1.91,2.49,2.55,2.68,1.0]
];

var QG_TRACKSWIDTH = [
  [6.29, 0,0,0,0,0,0,0,0,0,0, 0,0,0,0,0,0,0,0,0,0, 0,0,0,0,0,0,0,0,0,0, 0,0,0,0,0, 1.0,8.9,4.54,2.95,2.76,2.5,2.0,1.8,1.5,1.4,1.3,1.1,1.0,0.85],
  [7.55, 0,0,0,0,0,0,0,0,0,0, 0,0,0,0,0,0,0,0,0,0, 0,0,0,0,0,0,0,0,0,0, 0,0,0,0,0, 1.04,6.57,5.0,4.86,3.84,3.27,2.19,1.6,1.2,0.9,0.6,0.45,0.35,0.25],
  [6.06, 0,0,0,0,0,0,0,0,0,0, 0,0,0,0,0,0,0,0,0,0, 0,0,0,0,0,0,0,0,0,0, 0,0,0,0,0, 0.4,5.11,5.81,6.09,4.16,2.63,1.93,1.36,0.85,0.53,0.41,0.3,0.22,0.15],
  [6.0, 0,0,0,0,0,0,0,0,0,0, 0,0,0,0,0,0,0,0,0,0, 0,0,0,0,0,0,0,0,0,0, 0,0,0,0,0, 0.6,3.0,2.7,2.95,2.85,2.6,2.2,1.95,1.7,1.4,1.2,1.1,0.95,0.7],
  [3.84, 0,0,0,0,0,0,0,0,0,0, 0,0,0,0,0,0,0,0,0,0, 0,0,0,0,0,0,0,0,0,0, 0,0,0,0,0, 1.17,2.57,1.68,2.06,2.44,2.34,1.9,1.7,1.45,1.35,1.25,1.1,1.0,0.85],
  [4.41, 0,0,0,0,0,0,0,0,0,0, 0,0,0,0,0,0,0,0,0,0, 0,0,0,0,0,0,0,0,0,0, 0,0,0,0,0, 0.3,10.42,5.52,4.55,3.0,2.7,2.0,1.5,1.1,0.8,0.55,0.4,0.3,0.2],
  [5.55, 0,0,0,0,0,0,0,0,0,0, 0,0,0,0,0,0,0,0,0,0, 0,0,0,0,0,0,0,0,0,0, 0,0,0,0,0, 0.3,2.9,5.2,5.59,4.96,3.97,2.89,1.9,1.3,0.9,0.6,0.45,0.35,0.25],
  [4.6, 0,0,0,0,0,0,0,0,0,0, 0,0,0,0,0,0,0,0,0,0, 0,0,0,0,0,0,0,0,0,0, 0,0,0,0,0, 0.22,2.7,5.3,5.81,5.17,4.09,3.01,1.49,1.17,0.8,0.55,0.42,0.32,0.22],
  [7.9, 0,0,0,0,0,0,0,0,0,0, 0,0,0,0,0,0,0,0,0,0, 0,0,0,0,0,0,0,0,0,0, 0,0,0,0,0, 0.47,3.52,2.95,3.27,3.27,2.95,2.44,2.12,1.8,1.49,1.3,1.04,0.79,0.53],
  [6.0, 0,0,0,0,0,0,0,0,0,0, 0,0,0,0,0,0,0,0,0,0, 0,0,0,0,0,0,0,0,0,0, 0,0,0,0,0, 0.5,5.3,6.09,5.9,4.8,3.6,2.5,1.6,1.0,0.7,0.5,0.38,0.28,0.2],
  [5.5, 0,0,0,0,0,0,0,0,0,0, 0,0,0,0,0,0,0,0,0,0, 0,0,0,0,0,0,0,0,0,0, 0,0,0,0,0, 0.7,4.35,4.35,4.86,4.6,3.65,2.69,1.61,1.1,0.75,0.55,0.42,0.32,0.22],
  [5.52, 0,0,0,0,0,0,0,0,0,0, 0,0,0,0,0,0,0,0,0,0, 0,0,0,0,0,0,0,0,0,0, 0,0,0,0,0, 0.9,5.87,5.0,3.84,3.84,3.27,2.19,1.6,1.2,0.9,0.6,0.45,0.35,0.25],
  [5.9, 0,0,0,0,0,0,0,0,0,0, 0,0,0,0,0,0,0,0,0,0, 0,0,0,0,0,0,0,0,0,0, 0,0,0,0,0, 0.35,5.0,5.7,5.11,4.0,2.63,1.93,1.36,0.85,0.53,0.41,0.3,0.22,0.15],
  [9.18, 0,0,0,0,0,0,0,0,0,0, 0,0,0,0,0,0,0,0,0,0, 0,0,0,0,0,0,0,0,0,0, 0,0,0,0,0, 0.66,3.14,2.76,3.01,2.89,2.69,2.25,2.0,1.74,1.42,1.23,1.17,0.98,0.72],
  [12.13, 0,0,0,0,0,0,0,0,0,0, 0,0,0,0,0,0,0,0,0,0, 0,0,0,0,0,0,0,0,0,0, 0,0,0,0,0, 0.53,12.13,1.68,2.06,2.44,2.34,1.68,1.87,1.49,1.42,1.36,1.17,1.13,0.92]
];

// histogram ranges (data min/max) and tick labels
var X_RANGE = [[0,1],[0,0.91],[0,0.91],[0,1],[0,0.856],[0,0.985],[0,20],[-1,0.337],[-1,0.37]];
var X_TICKS = [
  [0,0.2,0.4,0.6,0.8,1.0],[0,0.2,0.4,0.6,0.8],[0,0.2,0.4,0.6,0.8],[0,0.2,0.4,0.6,0.8,1.0],
  [0,0.2,0.4,0.6,0.8],[0,0.2,0.4,0.6,0.8,1.0],[0,2.5,5,7.5,10,12.5,15,17.5,20],
  [-1,-0.8,-0.6,-0.4,-0.2,0,0.2,0.4],[-1,-0.8,-0.6,-0.4,-0.2,0,0.2,0.4]
];
var Y_TICKS = [
  [0,2,4,6,8],[0,2,4,6,8],[0,2.5,5,7.5,10,12.5],[0,5,10,15],[0,5,10,15,20],[0,5,10,15,20],
  [0,0.2,0.4,0.6,0.8],[0,2,4,6,8,10,12],[0,2,4,6,8,10,12]
];
var Y_DEC = [0,0,1,0,0,0,1,0,0];
var FEATURES = ['DL1d_pb','DL1d_pc','DL1d_pu','GN2_pb','GN2_pc','GN2_pu','QG_nTracks','QG_tracksC1','QG_tracksWidth'];

var nTrackRows = QG_NTRACKS.map(function (vals) {
  var row = [];
  for (var k = 0; k < 50; k++) row.push(0);
  NTRACKS_BIN.forEach(function (b, n) { row[b] = vals[n]; });
  return row;
});
var HISTS = [DL1D_PB, DL1D_PC, DL1D_PU, GN2_PB, GN2_PC, GN2_PU, nTrackRows, QG_TRACKSC1, QG_TRACKSWIDTH];

// layout
var FONT = 'DejaVu Sans';
var COL_X = [109, 916, 1720, 2527];
var ROW_Y = [148, 615, 1082];
var GW = 715, GH = 335;

function fmt(v, d) { return v.toFixed(d).replace('-', '\u2212'); }

function stepPoints(vals, lo, hi) {
  var w = (hi - lo) / vals.length;
  var pts = [[lo, 0]];
  vals.forEach(function (v, k) { pts.push([lo + k * w, v], [lo + (k + 1) * w, v]); });
  pts.push([hi, 0]);
  return pts;
}

var grids = [], xAxes = [], yAxes = [], series = [], graphics = [];
var badRows = [];

HISTS.forEach(function (rows, i) {
  var col = i % 4, row = Math.floor(i / 4);
  var lo = X_RANGE[i][0], hi = X_RANGE[i][1], span = hi - lo;
  var ymax = 0;
  rows.forEach(function (r, s) {
    if (r.length !== 50) badRows.push(FEATURES[i] + '#' + s + ':' + r.length);
    r.forEach(function (v) { if (v > ymax) ymax = v; });
  });
  grids.push({ left: COL_X[col], top: ROW_Y[row], width: GW, height: GH,
    show: true, borderColor: '#000', borderWidth: 1.6, backgroundColor: 'transparent' });
  xAxes.push({
    gridIndex: i, type: 'value', min: lo - 0.05 * span, max: hi + 0.05 * span,
    name: FEATURES[i], nameLocation: 'middle', nameGap: 46,
    nameTextStyle: { fontFamily: FONT, fontSize: 20.5, color: '#000' },
    axisLine: { show: false, onZero: false }, splitLine: { show: false },
    axisTick: { show: true, length: 7, customValues: X_TICKS[i], lineStyle: { color: '#000', width: 1.6 } },
    axisLabel: { show: true, customValues: X_TICKS[i], margin: 13, fontFamily: FONT, fontSize: 20.5, color: '#000',
      formatter: function (v) { return fmt(v, 1); } }
  });
  yAxes.push({
    gridIndex: i, type: 'value', min: 0, max: ymax * 1.05,
    name: col === 0 ? 'Normalized' : '', nameLocation: 'middle', nameGap: 42, nameRotate: 90,
    nameTextStyle: { fontFamily: FONT, fontSize: 20.5, color: '#000' },
    axisLine: { show: false, onZero: false }, splitLine: { show: false },
    axisTick: { show: true, length: 7, customValues: Y_TICKS[i], lineStyle: { color: '#000', width: 1.6 } },
    axisLabel: { show: true, customValues: Y_TICKS[i], margin: 12, fontFamily: FONT, fontSize: 20.5, color: '#000',
      formatter: function (v) { return fmt(v, Y_DEC[i]); } }
  });
  rows.forEach(function (r, s) {
    series.push({
      type: 'line', name: SAMPLES[s], xAxisIndex: i, yAxisIndex: i,
      data: stepPoints(r, lo, hi), showSymbol: false, symbol: 'none', silent: true,
      lineStyle: { color: COLORS[s], width: 3, join: 'miter', cap: 'butt' },
      itemStyle: { color: COLORS[s] },
      emphasis: { disabled: true }
    });
  });
  graphics.push({ type: 'text', x: COL_X[col] + GW / 2, y: ROW_Y[row] - 20,
    style: { text: FEATURES[i], fontFamily: FONT, fontSize: 24.6, fill: '#000', textAlign: 'center', textVerticalAlign: 'middle' } });
});

// figure title and the clipped header line above it
graphics.push({ type: 'text', x: 1633, y: 31,
  style: { text: 'atlas/jets/ \u2014 all features', fontFamily: FONT, fontWeight: 'bold', fontSize: 36, fill: '#000',
    textAlign: 'center', textVerticalAlign: 'middle' } });
graphics.push({ type: 'text', x: 892, y: -13,
  style: { text: '2,740 objects \u00b7 10,800,780', fontFamily: 'Open Sans', fontSize: 78, fill: '#222',
    textAlign: 'right', textVerticalAlign: 'middle' } });
// legend frame
graphics.push({ type: 'rect', z: 5, shape: { x: 1263, y: 1259, width: 2365, height: 280, r: 10 },
  style: { fill: '#fff', stroke: '#cfcfcf', lineWidth: 2.5 } });
if (badRows.length) {
  graphics.push({ type: 'text', x: 20, y: 1470, z: 100, style: { text: 'BAD: ' + badRows.join(' '), fontSize: 20, fill: 'red' } });
}

var LEGEND_COLS = [[0,1,2,3],[4,5,6,7],[8,9,10,11],[12,13,14]];
var LEGEND_X = [1271, 1812, 2321, 2998];
var legends = LEGEND_COLS.map(function (idx, c) {
  return {
    type: 'plain', orient: 'vertical', left: LEGEND_X[c], top: 1270, height: 260, width: 620, z: 10,
    icon: 'rect', itemWidth: 87, itemHeight: 6, itemGap: 10, selectedMode: false,
    data: idx.map(function (k) { return SAMPLES[k]; }),
    textStyle: { fontFamily: FONT, fontSize: 40, lineHeight: 46, color: '#000', padding: [0, 0, 0, 25] }
  };
});

var myChart = echarts.init(document.getElementById('chart'), null, { renderer: 'canvas', width: 3647, height: 1490 });
myChart.setOption({
  animation: false,
  backgroundColor: '#fff',
  grid: grids,
  xAxis: xAxes,
  yAxis: yAxes,
  legend: legends,
  graphic: graphics,
  series: series
});
</script>
</body>
</html>
